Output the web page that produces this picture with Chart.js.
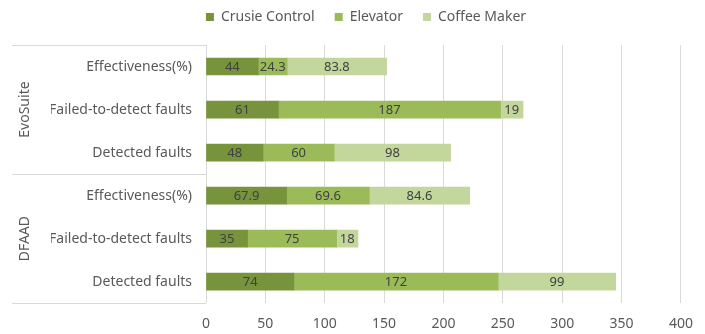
<!DOCTYPE html>
<html>
<head>
<meta charset="utf-8">
<script src="https://cdn.jsdelivr.net/npm/chart.js@4.4.1/dist/chart.umd.min.js"></script>
<style>
  html, body { margin: 0; padding: 0; background: #fff; }
  #wrap { width: 705px; height: 334px; position: relative; }
</style>
</head>
<body>
<div id="wrap"><canvas id="grafico"></canvas></div>
<script>
// categorias (de cima para baixo) e os grupos de cada metade
const categorias = ['Effectiveness(%)', 'Failed-to-detect faults', 'Detected faults',
                    'Effectiveness(%)', 'Failed-to-detect faults', 'Detected faults'];
const grupos = ['EvoSuite', 'DFAAD'];

// valores de cada série, na mesma ordem das categorias
const crusieControl = [44, 61, 48, 67.9, 35, 74];
const elevator = [24.3, 187, 60, 69.6, 75, 172];
const coffeeMaker = [83.8, 19, 98, 84.6, 18, 99];

const xTicks = [0, 50, 100, 150, 200, 250, 300, 350, 400];

const corTexto = '#595959';
const fonteEixo = { family: 'Noto Sans', size: 14 };
const margemEsquerda = 51; // empurra a legenda um pouco para a direita

// escreve o valor no meio de cada pedaço da barra
const rotulosBarras = {
  id: 'rotulosBarras',
  afterDatasetsDraw(chart) {
    const ctx = chart.ctx;
    ctx.save();
    ctx.font = '13px "Noto Sans"';
    ctx.fillStyle = '#404040';
    ctx.textAlign = 'center';
    ctx.textBaseline = 'middle';
    chart.data.datasets.forEach((ds, i) => {
      chart.getDatasetMeta(i).data.forEach((bar, j) => {
        const meio = (bar.x + bar.base) / 2;
        ctx.fillText(String(ds.data[j]), meio, bar.y + 1);
      });
    });
    ctx.restore();
  }
};

// caixa da esquerda com os nomes dos grupos na vertical
const grupoEixo = {
  id: 'grupoEixo',
  afterDraw(chart) {
    const ctx = chart.ctx;
    const area = chart.chartArea;
    const meio = (area.top + area.bottom) / 2;
    ctx.save();
    ctx.strokeStyle = '#d9d9d9';
    ctx.lineWidth = 1;
    [area.top, meio, area.bottom].forEach(y => {
      ctx.beginPath();
      ctx.moveTo(12, Math.round(y) + 0.5);
      ctx.lineTo(area.left, Math.round(y) + 0.5);
      ctx.stroke();
    });
    ctx.font = '14px "Noto Sans"';
    ctx.fillStyle = corTexto;
    ctx.textAlign = 'center';
    ctx.textBaseline = 'middle';
    const centros = [(area.top + meio) / 2, (meio + area.bottom) / 2];
    grupos.forEach((g, i) => {
      ctx.save();
      ctx.translate(25, centros[i]);
      ctx.rotate(-Math.PI / 2);
      ctx.fillText(g, 0, 0);
      ctx.restore();
    });
    ctx.restore();
  }
};

// ajusta a altura da legenda para o gráfico começar mais abaixo
const espacoLegenda = {
  id: 'espacoLegenda',
  beforeInit(chart) {
    const fitOriginal = chart.legend.fit;
    chart.legend.fit = function () {
      fitOriginal.call(this);
      this.height += 11;
    };
  }
};

const grafico = new Chart(document.getElementById('grafico'), {
  type: 'bar',
  data: {
    labels: categorias,
    datasets: [
      { label: 'Crusie Control', data: crusieControl, backgroundColor: '#77933c' },
      { label: 'Elevator', data: elevator, backgroundColor: '#9bbb59' },
      { label: 'Coffee Maker', data: coffeeMaker, backgroundColor: '#c3d69b' }
    ]
  },
  options: {
    indexAxis: 'y',
    responsive: true,
    maintainAspectRatio: false,
    animation: false,
    layout: { padding: { top: -10, right: 24, bottom: -10, left: margemEsquerda } },
    datasets: { bar: { barThickness: 17 } },
    scales: {
      x: {
        stacked: true,
        min: 0,
        max: 400,
        afterBuildTicks(scale) { scale.ticks = xTicks.map(v => ({ value: v })); },
        grid: { color: '#d9d9d9', drawTicks: false },
        border: { display: false },
        ticks: { color: corTexto, font: fonteEixo, padding: 12 }
      },
      y: {
        stacked: true,
        grid: { display: false, drawTicks: false },
        border: { display: false },
        ticks: { color: corTexto, font: fonteEixo, padding: 14 },
        afterFit(scale) { scale.width = 206 - margemEsquerda; }
      }
    },
    plugins: {
      legend: {
        position: 'top',
        labels: {
          color: corTexto,
          font: { family: 'Noto Sans', size: 14 },
          boxWidth: 8,
          boxHeight: 8,
          padding: 20
        }
      },
      tooltip: { enabled: false }
    }
  },
  plugins: [rotulosBarras, grupoEixo, espacoLegenda]
});
</script>
</body>
</html>
